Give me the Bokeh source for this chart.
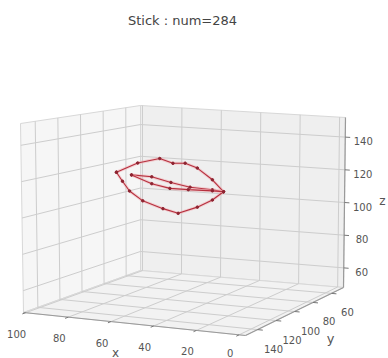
import numpy as np
from bokeh.plotting import figure
from bokeh.models import Range1d
from bokeh.embed import file_html
from bokeh.resources import INLINE
from bokeh.core.properties import value

# ---------------- data ----------------
title_text = "Stick : num=284"
x_ticks = [0, 20, 40, 60, 80, 100]
y_ticks = [60, 80, 100, 120, 140]
z_ticks = [60, 80, 100, 120, 140]
x_lim = (-3, 101)
y_lim = (47, 153)
z_lim = (48, 152)

# lips: outer contour (closed)
outer_x = [83.8, 73.5, 62.8, 56.4, 50.5, 44.6, 37.3, 31.9, 37.3, 44.6, 53.9, 61.3, 71.1, 77.5, 80.9, 83.8]
outer_y = [100, 100, 100, 100, 100, 100, 100, 100, 100, 100, 100, 100, 100, 100, 100, 100]
outer_z = [119.7, 126.0, 129.6, 127.4, 128.0, 125.7, 119.6, 113.2, 107.9, 103.1, 98.6, 100.6, 104.2, 109.3, 114.7, 119.7]
# inner upper lip line
inner_up_x = [76.5, 66.7, 57.4, 48.1, 37.3, 31.9]
inner_up_y = [100, 100, 100, 100, 100, 100]
inner_up_z = [118.8, 118.6, 116.2, 114.3, 113.8, 113.2]
# inner lower lip line
inner_lo_x = [76.5, 66.7, 57.9, 49.0, 37.3, 31.9]
inner_lo_y = [100, 100, 100, 100, 100, 100]
inner_lo_z = [118.8, 114.6, 112.7, 112.8, 113.2, 113.2]

# ---------------- view: screen position of the 8 box corners ----------------
# index [ix][iy][iz]: 0 = lower limit, 1 = upper limit
corner_px = np.zeros((2, 2, 2, 2))
corner_px[1, 1, 0] = (23, 312)
corner_px[0, 1, 0] = (245, 335)
corner_px[0, 0, 0] = (343, 287)
corner_px[1, 0, 0] = (140, 270)
corner_px[1, 0, 1] = (140, 105)
corner_px[1, 1, 1] = (20, 123)
corner_px[0, 0, 1] = (345, 117)
corner_px[0, 1, 1] = (246, 141)

X0, X1 = x_lim
Y0, Y1 = y_lim
Z0, Z1 = z_lim


def proj(x, y, z):
    x = np.atleast_1d(np.asarray(x, float))
    y = np.atleast_1d(np.asarray(y, float))
    z = np.atleast_1d(np.asarray(z, float))
    u = ((x - X0) / (X1 - X0))[:, None]
    v = ((y - Y0) / (Y1 - Y0))[:, None]
    w = ((z - Z0) / (Z1 - Z0))[:, None]
    C = corner_px
    out = np.zeros((len(x), 2))
    for i, fu in ((0, 1 - u), (1, u)):
        for j, fv in ((0, 1 - v), (1, v)):
            for k, fw in ((0, 1 - w), (1, w)):
                out += fu * fv * fw * C[i, j, k][None, :]
    return list(out[:, 0]), list(out[:, 1])


def seg(a, b):
    return proj([a[0], b[0]], [a[1], b[1]], [a[2], b[2]])


# ---------------- figure ----------------
W, H = 388, 358
p = figure(width=W, height=H, x_range=Range1d(0, W), y_range=Range1d(H, 0),
           output_backend="svg", toolbar_location=None,
           x_axis_type=None, y_axis_type=None, min_border=0)
p.outline_line_color = None
p.background_fill_color = "white"
p.border_fill_color = "white"

# panes
pane_world = [
    [(X1, Y1, Z0), (X1, Y0, Z0), (X1, Y0, Z1), (X1, Y1, Z1)],  # x pane (left)
    [(X1, Y0, Z0), (X0, Y0, Z0), (X0, Y0, Z1), (X1, Y0, Z1)],  # y pane (right)
    [(X1, Y1, Z0), (X0, Y1, Z0), (X0, Y0, Z0), (X1, Y0, Z0)],  # floor
]
pxs, pys = [], []
for poly in pane_world:
    a, b, c = zip(*poly)
    sx, sy = proj(a, b, c)
    pxs.append(sx)
    pys.append(sy)
p.patches(pxs, pys, fill_color=["#f6f6f6", "#efefef", "#f2f2f2"], line_color="#d8d8d8", line_width=1)

# grid lines
gx, gy = [], []
for xt in x_ticks:
    for a, b in [((xt, Y0, Z0), (xt, Y0, Z1)), ((xt, Y0, Z0), (xt, Y1, Z0))]:
        sx, sy = seg(a, b)
        gx.append(sx); gy.append(sy)
for yt in y_ticks:
    for a, b in [((X1, yt, Z0), (X1, yt, Z1)), ((X1, yt, Z0), (X0, yt, Z0))]:
        sx, sy = seg(a, b)
        gx.append(sx); gy.append(sy)
for zt in z_ticks:
    for a, b in [((X1, Y0, zt), (X1, Y1, zt)), ((X1, Y0, zt), (X0, Y0, zt))]:
        sx, sy = seg(a, b)
        gx.append(sx); gy.append(sy)
p.multi_line(gx, gy, line_color="#cdcdcd", line_width=1)

# axis lines
ax_x, ax_y = [], []
for a, b in [((X1, Y1, Z0), (X0, Y1, Z0)), ((X0, Y1, Z0), (X0, Y0, Z0)), ((X0, Y0, Z0), (X0, Y0, Z1))]:
    sx, sy = seg(a, b)
    ax_x.append(sx); ax_y.append(sy)
p.multi_line(ax_x, ax_y, line_color="#9a9a9a", line_width=1.2)

# tick marks
tk_x, tk_y = [], []
for xt in x_ticks:
    sx, sy = seg((xt, Y1, Z0), (xt, Y1 + 3, Z0))
    tk_x.append(sx); tk_y.append(sy)
for yt in y_ticks:
    sx, sy = seg((X0, yt, Z0), (X0 - 2.5, yt, Z0))
    tk_x.append(sx); tk_y.append(sy)
for zt in z_ticks:
    sx, sy = seg((X0, Y0, zt), (X0 - 2.5, Y0, zt))
    tk_x.append(sx); tk_y.append(sy)
p.multi_line(tk_x, tk_y, line_color="#777777", line_width=1)

# lips
for lx, ly, lz in [(outer_x, outer_y, outer_z), (inner_up_x, inner_up_y, inner_up_z),
                   (inner_lo_x, inner_lo_y, inner_lo_z)]:
    sx, sy = proj(lx, ly, lz)
    p.line(sx, sy, line_color="#f3a9b0", line_width=3.0, line_alpha=0.5)
    p.line(sx, sy, line_color="#b5303e", line_width=1.1)
    p.scatter(sx, sy, size=2.5, color="#8e2431")

# tick labels (kept inside the visible frame)
font = value("DejaVu Sans")
LOW = H - 6
sx, sy = proj(x_ticks, [Y1] * len(x_ticks), [Z0] * len(x_ticks))
p.text([v - 9 for v in sx], [min(v + 21, LOW) for v in sy], text=[str(t) for t in x_ticks],
       text_font=font, text_font_size="10px", text_color="#555555",
       text_align="center", text_baseline="middle")
sx, sy = proj([X0] * len(y_ticks), y_ticks, [Z0] * len(y_ticks))
p.text([v + 16 for v in sx], [min(v + 19, LOW) for v in sy], text=[str(t) for t in y_ticks],
       text_font=font, text_font_size="10px", text_color="#555555",
       text_align="center", text_baseline="middle")
sx, sy = proj([X0] * len(z_ticks), [Y0] * len(z_ticks), z_ticks)
p.text([v + 18 for v in sx], [v + 4 for v in sy], text=[str(t) for t in z_ticks],
       text_font=font, text_font_size="10px", text_color="#555555",
       text_align="center", text_baseline="middle")

# axis labels
mx, my = proj([(X0 + X1) / 2], [Y1], [Z0])
p.text([mx[0] - 19], [min(my[0] + 32, LOW)], text=["x"], text_font=font, text_font_size="12px",
       text_color="#555555", text_align="center", text_baseline="middle")
mx, my = proj([X0], [(Y0 + Y1) / 2], [Z0])
p.text([mx[0] + 36], [min(my[0] + 27, LOW)], text=["y"], text_font=font, text_font_size="13px",
       text_color="#555555", text_align="center", text_baseline="middle")
mx, my = proj([X0], [Y0], [(Z0 + Z1) / 2])
p.text([min(mx[0] + 39, W - 6)], [my[0] - 2], text=["z"], text_font=font, text_font_size="12px",
       text_color="#555555", text_align="center", text_baseline="middle")

# title
p.text([182], [20], text=[title_text], text_font=font, text_font_size="13px",
       text_color="#444444", text_align="center", text_baseline="middle")

open("out.html", "w").write(file_html(p, INLINE))
